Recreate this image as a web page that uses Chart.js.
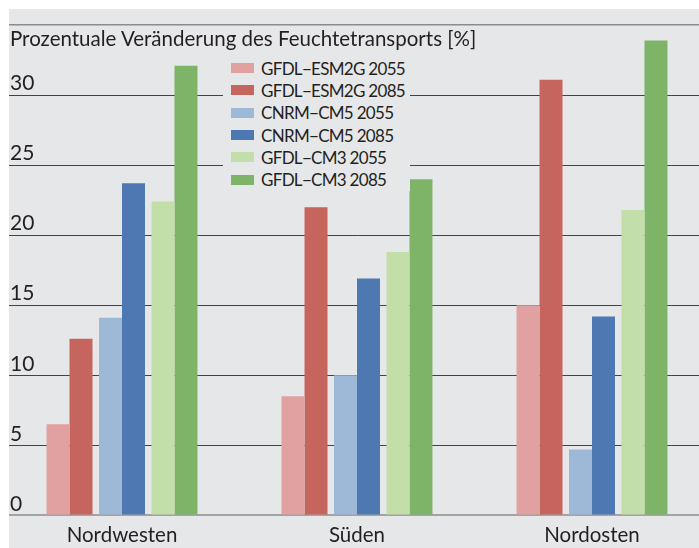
<!DOCTYPE html>
<html>
<head>
<meta charset="utf-8">
<script src="https://cdn.jsdelivr.net/npm/chart.js@4.4.1/dist/chart.umd.min.js"></script>
<style>
  html, body { margin: 0; padding: 0; background: #fff; }
  #panel { position: absolute; left: 9px; top: 9px; width: 690px; height: 539px; overflow: hidden; background: #e6e7e9; }
  #wrap { position: absolute; left: -9px; top: -9px; width: 710px; height: 555px; }
  #title { position: absolute; left: 1px; top: 17px; font: 20.5px Lato, sans-serif; color: #231f20; white-space: nowrap; }
  #legend { position: absolute; left: 214px; top: 48px; width: 187px; background: #e6e7e9; font: 17px Lato, sans-serif; letter-spacing: -0.7px; color: #231f20; }
  #legend div { height: 22.3px; display: flex; align-items: center; padding-left: 8px; white-space: nowrap; }
  #legend span { display: inline-block; flex: 0 0 23px; height: 10px; margin-right: 7px; }
</style>
</head>
<body>
<div id="panel">
  <div id="wrap"><canvas id="chart"></canvas></div>
  <div id="title">Prozentuale Veränderung des Feuchtetransports [%]</div>
  <div id="legend"></div>
</div>
<script>
// Veränderung des Feuchtetransports in %, je Region und Modelllauf
const regions = ['Nordwesten', 'Süden', 'Nordosten'];
const seriesNames = ['GFDL\u2212ESM2G 2055', 'GFDL\u2212ESM2G 2085', 'CNRM\u2212CM5 2055', 'CNRM\u2212CM5 2085', 'GFDL\u2212CM3 2055', 'GFDL\u2212CM3 2085'];
const esm2g2055 = [6.5, 8.5, 15.0];
const esm2g2085 = [12.6, 22.0, 31.1];
const cm5_2055 = [14.1, 10.0, 4.7];
const cm5_2085 = [23.7, 16.9, 14.2];
const cm3_2055 = [22.4, 18.8, 21.8];
const cm3_2085 = [32.1, 24.0, 33.9];
const yTicks = [0, 5, 10, 15, 20, 25, 30];
const yMax = 35;

const colors = ['#e1a1a0', '#c6645e', '#9eb9d8', '#4d78b2', '#c2dfa9', '#7eb468'];
const values = [esm2g2055, esm2g2085, cm5_2055, cm5_2085, cm3_2055, cm3_2085];

// bars come in pairs (2055/2085) with a small gap between the pairs
const pairShift = {
    id: 'pairShift',
    afterDatasetsUpdate(chart) {
        const x = chart.scales.x;
        chart.data.datasets.forEach((ds, i) => {
            chart.getDatasetMeta(i).data.forEach((bar, j) => {
                const w = bar.width;
                const pair = Math.floor(i / 2) - 1;
                const side = i % 2 ? 0.5 : -0.5;
                bar.x = x.getPixelForValue(j) + pair * (w * 2 + 6.5) + side * w;
            });
        });
    }
};

const chart = new Chart(document.getElementById('chart'), {
    type: 'bar',
    data: {
        labels: regions,
        datasets: values.map((v, i) => ({
            label: seriesNames[i],
            data: v,
            backgroundColor: colors[i],
            borderWidth: 0,
            categoryPercentage: 0.587,
            barPercentage: 1.0
        }))
    },
    options: {
        responsive: true,
        maintainAspectRatio: false,
        animation: false,
        layout: { padding: { left: 4.5, right: 0.5, top: 25, bottom: 0 } },
        plugins: {
            legend: { display: false },
            tooltip: { enabled: false }
        },
        scales: {
            x: {
                grid: { display: false, drawTicks: false },
                border: { display: false },
                ticks: {
                    color: '#231f20',
                    font: { family: 'Lato', size: 20.5 },
                    padding: 7.5
                }
            },
            y: {
                min: 0,
                max: yMax,
                z: 1,
                afterBuildTicks: s => { s.ticks = yTicks.concat([yMax]).map(v => ({ value: v })); },
                afterFit: s => { s.width = 0; s.paddingTop = 0; s.paddingBottom = 0; },
                border: { display: false },
                grid: {
                    drawTicks: false,
                    color: ctx => (ctx.tick.value === 0 ? '#a3a3a3' : ctx.tick.value === yMax ? '#8c8c8c' : 'rgba(20,20,20,0.78)'),
                    lineWidth: ctx => (ctx.tick.value === 0 ? 2 : ctx.tick.value === yMax ? 1.5 : 1)
                },
                ticks: {
                    mirror: true,
                    padding: 5.5,
                    labelOffset: -11.5,
                    color: '#231f20',
                    font: { family: 'Lato', size: 21 },
                    callback: v => (v === yMax ? '' : v)
                }
            }
        }
    },
    plugins: [pairShift]
});

// legend as a box over the gridlines
const legend = document.getElementById('legend');
chart.data.datasets.forEach(ds => {
    const row = document.createElement('div');
    const sw = document.createElement('span');
    sw.style.background = ds.backgroundColor;
    row.appendChild(sw);
    row.appendChild(document.createTextNode(ds.label));
    legend.appendChild(row);
});
</script>
</body>
</html>
